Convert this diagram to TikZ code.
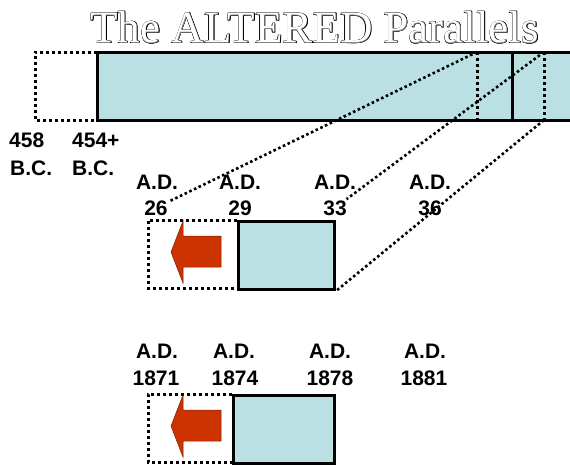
\documentclass[tikz,border=0pt]{standalone}
\usepackage{fontspec}
\setmainfont{Liberation Serif}
\newfontfamily\arialfam{Liberation Sans}
\usetikzlibrary{calc}
\definecolor{barblue}{RGB}{186,224,228}
\definecolor{arrred}{RGB}{204,51,0}
\begin{document}
\begin{tikzpicture}[x=1pt,y=-1pt,
  solidline/.style={line width=3pt},
  dotbox/.style={line width=3pt, dash pattern=on 3pt off 3pt},
  dotdiag/.style={line width=2.6pt, dash pattern=on 2.6pt off 2.6pt},
  lbl/.style={font=\arialfam\bfseries\fontsize{21}{25}\selectfont, inner sep=0pt, anchor=base},
  lbll/.style={lbl, anchor=base west},
  ttl/.style={font=\fontsize{45}{50}\selectfont, inner sep=0pt, anchor=base},
  bluebox/.style={draw, solidline, fill=barblue, minimum width=96pt, minimum height=68pt, inner sep=0pt, anchor=north west},
  bigarrow/.style={fill=arrred, draw=arrred!60!black, line width=0.5pt}]
\useasboundingbox (0,0) rectangle (570,464);
\clip (0,0) rectangle (570,464);

% ---------- title (engraved look) ----------
\foreach \a in {0,45,...,315}
  \node[ttl, text=black] (ttlo\a) at ($(315,43)+(\a:0.6)$) {The ALTERED Parallels};
\node[ttl, text=black!50] (ttlg) at (315,43) {The ALTERED Parallels};
\node[ttl, text=white] (ttlw) at (314.6,42.6) {The ALTERED Parallels};

% ---------- top bar ----------
\fill[barblue] (97,52) rectangle (580,120);
\draw[solidline] (580,52) -- (97,52) -- (97,120) -- (580,120);
\draw[solidline] (512,52) -- (512,120);
\draw[dotbox] (97,52) -- (35,52) -- (35,120) -- (97,120);
\coordinate (t1) at (477,52);
\coordinate (b1) at (477,120);
\coordinate (t2) at (544,52);
\coordinate (b2) at (544,120);
\draw[dotbox] (t1) -- (b1);
\draw[dotbox] (t2) -- (b2);

% ---------- top labels ----------
\node[lbll] (l458) at (9,147) {458};
\node[lbll] (lbc1) at (10,175) {B.C.};
\node[lbll] (l454) at (72,147) {454+};
\node[lbll] (lbc2) at (72,175) {B.C.};

% ---------- middle row ----------
\draw[dotbox] (237,220) -- (148,220) -- (148,288) -- (237,288);
\node[bluebox] (mbox) at (237,220) {};
\draw[bigarrow] (171,252) -- (183,221) -- (183,236) -- (221,236) -- (221,267) -- (183,267) -- (183,283) -- cycle;

\node[lbl] (mad1) at (157,189) {A.D.};
\node[lbl, inner sep=1pt] (m26) at (156,215) {26};
\node[lbl] (mad2) at (240,189) {A.D.};
\node[lbl] (m29) at (240,215) {29};
\node[lbl] (mad3) at (335,189) {A.D.};
\node[lbl, inner sep=1pt] (m33) at (335,215) {33};
\node[lbl] (mad4) at (430,189) {A.D.};
\node[lbl] (m36) at (430,215) {36};

\draw[dotdiag] (t1) -- (m26);
\draw[dotdiag] (t2) -- (m33);
\draw[dotdiag] (b2) -- (mbox.south east);

% ---------- bottom row ----------
\draw[dotbox] (232,394) -- (148,394) -- (148,462) -- (232,462);
\node[bluebox, minimum width=101pt] (bbox) at (232,394) {};
\draw[bigarrow] (171,426) -- (183,395) -- (183,410) -- (221,410) -- (221,441) -- (183,441) -- (183,457) -- cycle;

\node[lbl] (bad1) at (157,358) {A.D.};
\node[lbl] (b1871) at (156,385) {1871};
\node[lbl] (bad2) at (234,358) {A.D.};
\node[lbl] (b1874) at (235,385) {1874};
\node[lbl] (bad3) at (330,358) {A.D.};
\node[lbl] (b1878) at (330,385) {1878};
\node[lbl] (bad4) at (425,358) {A.D.};
\node[lbl] (b1881) at (424,385) {1881};
\end{tikzpicture}
\end{document}
